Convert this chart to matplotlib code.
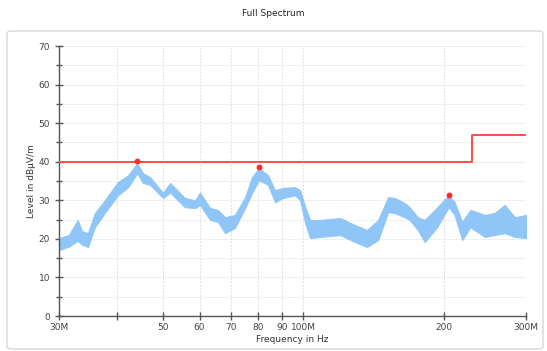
import numpy as np
import matplotlib.pyplot as plt
from matplotlib.patches import FancyBboxPatch
from matplotlib.ticker import FixedLocator, MultipleLocator, NullFormatter

# Spectrum envelope (frequency in MHz, min/max level in dBuV/m)
freq_mhz = [30, 31.5, 32.9, 33.6, 34.6, 35.8, 37.6, 40.1, 42.2, 44.1, 45.4, 47.0,
            50.1, 51.9, 55.8, 58.7, 60.1, 63.2, 65.7, 68.0, 71.4, 75.1, 77.7, 80.4,
            84.1, 87.0, 90.5, 96.1, 98.5, 101, 103.5, 108.7, 120, 129, 137, 144.7,
            152, 157, 165, 169, 176, 182, 193, 205, 211, 219, 228, 245, 257, 270,
            284, 300]
level_max = [20.2, 21.0, 24.9, 22.0, 21.5, 26.7, 30.0, 34.7, 36.5, 39.6, 37.0, 36.0,
             31.9, 34.5, 30.6, 30.0, 32.0, 28.0, 27.5, 25.6, 26.2, 30.8, 36.0, 38.3,
             36.5, 32.6, 33.2, 33.4, 32.6, 28.2, 24.9, 24.9, 25.4, 23.6, 22.3, 24.9,
             30.8, 30.6, 29.3, 28.2, 25.6, 24.9, 28.0, 31.3, 29.5, 24.4, 27.5, 26.2,
             26.7, 28.8, 25.6, 26.2]
level_min = [17.1, 18.0, 19.5, 18.5, 17.9, 23.0, 26.7, 31.3, 33.4, 37.0, 34.5, 34.0,
             30.6, 32.0, 28.2, 28.0, 28.8, 24.9, 24.4, 21.5, 22.8, 28.0, 31.9, 35.2,
             34.0, 29.5, 30.6, 31.3, 30.0, 24.0, 20.2, 20.5, 21.0, 19.2, 17.9, 19.7,
             26.9, 26.7, 25.6, 24.9, 22.3, 19.2, 22.8, 28.2, 26.2, 19.7, 23.0, 20.5,
             21.0, 21.5, 20.5, 20.2]

# Limit line (step at 230 MHz)
limit_freq = [30, 230, 230, 300]
limit_level = [40, 40, 47, 47]

# Peaks
peak_freq = [44.1, 80.4, 205]
peak_level = [40.2, 38.6, 31.3]

tick_freq = [30, 40, 50, 60, 70, 80, 90, 100, 200, 300]
tick_labels = ['30M', '', '50', '60', '70', '80', '90', '100M', '200', '300M']

fig = plt.figure(figsize=(5.47, 3.51), dpi=100)
fig.patches.append(FancyBboxPatch((7 / 547, 2 / 351), 536 / 547, 318 / 351,
                                  boxstyle='round,pad=0,rounding_size=0.008',
                                  transform=fig.transFigure, facecolor='white',
                                  edgecolor='#d8d8d8', linewidth=1.0, zorder=-1))
ax = fig.add_axes([59 / 547, 35 / 351, 467 / 547, 270 / 351])

f = np.array(freq_mhz) * 1e6
ax.fill_between(f, level_min, level_max, color='#8fc6f7', linewidth=0.8,
                edgecolor='#8fc6f7', zorder=2)
ax.plot(np.array(limit_freq) * 1e6, limit_level, color='#ff4d4d', lw=1.4, zorder=3)
ax.plot(np.array(peak_freq) * 1e6, peak_level, 'o', color='#ff2a2a', ms=3.2, zorder=4)

ax.set_xscale('log')
ax.set_xlim(30e6, 300e6)
ax.set_ylim(0, 70)
ax.xaxis.set_major_locator(FixedLocator([v * 1e6 for v in tick_freq]))
ax.xaxis.set_minor_formatter(NullFormatter())
ax.xaxis.set_minor_locator(FixedLocator([]))
ax.set_xticklabels(tick_labels)
ax.yaxis.set_major_locator(MultipleLocator(10))
ax.yaxis.set_minor_locator(MultipleLocator(5))

ax.grid(True, which='major', axis='x', color='#d4d4d4', ls=(0, (2, 2)), lw=0.6)
ax.grid(True, which='both', axis='y', color='#ececec', ls='-', lw=0.6)
ax.set_axisbelow(True)

for side in ['top', 'right']:
    ax.spines[side].set_visible(False)
for side in ['left', 'bottom']:
    ax.spines[side].set_color('#555555')
    ax.spines[side].set_linewidth(1.0)

ax.tick_params(which='both', direction='inout', colors='#555555', labelsize=6.5,
               labelcolor='#444444', width=1.0)
ax.tick_params(which='major', length=6)
ax.tick_params(which='minor', length=5)
ax.tick_params(axis='x', pad=2)

ax.set_xlabel('Frequency in Hz', fontsize=6.5, color='#333333', labelpad=2)
ax.set_ylabel('Level in dBµV/m', fontsize=6.5, color='#333333', labelpad=2)
fig.text(0.5, 1 - 13 / 351, 'Full Spectrum', ha='center', va='center',
         fontsize=6.5, color='#222222')

fig.savefig('out.png', dpi=100)
